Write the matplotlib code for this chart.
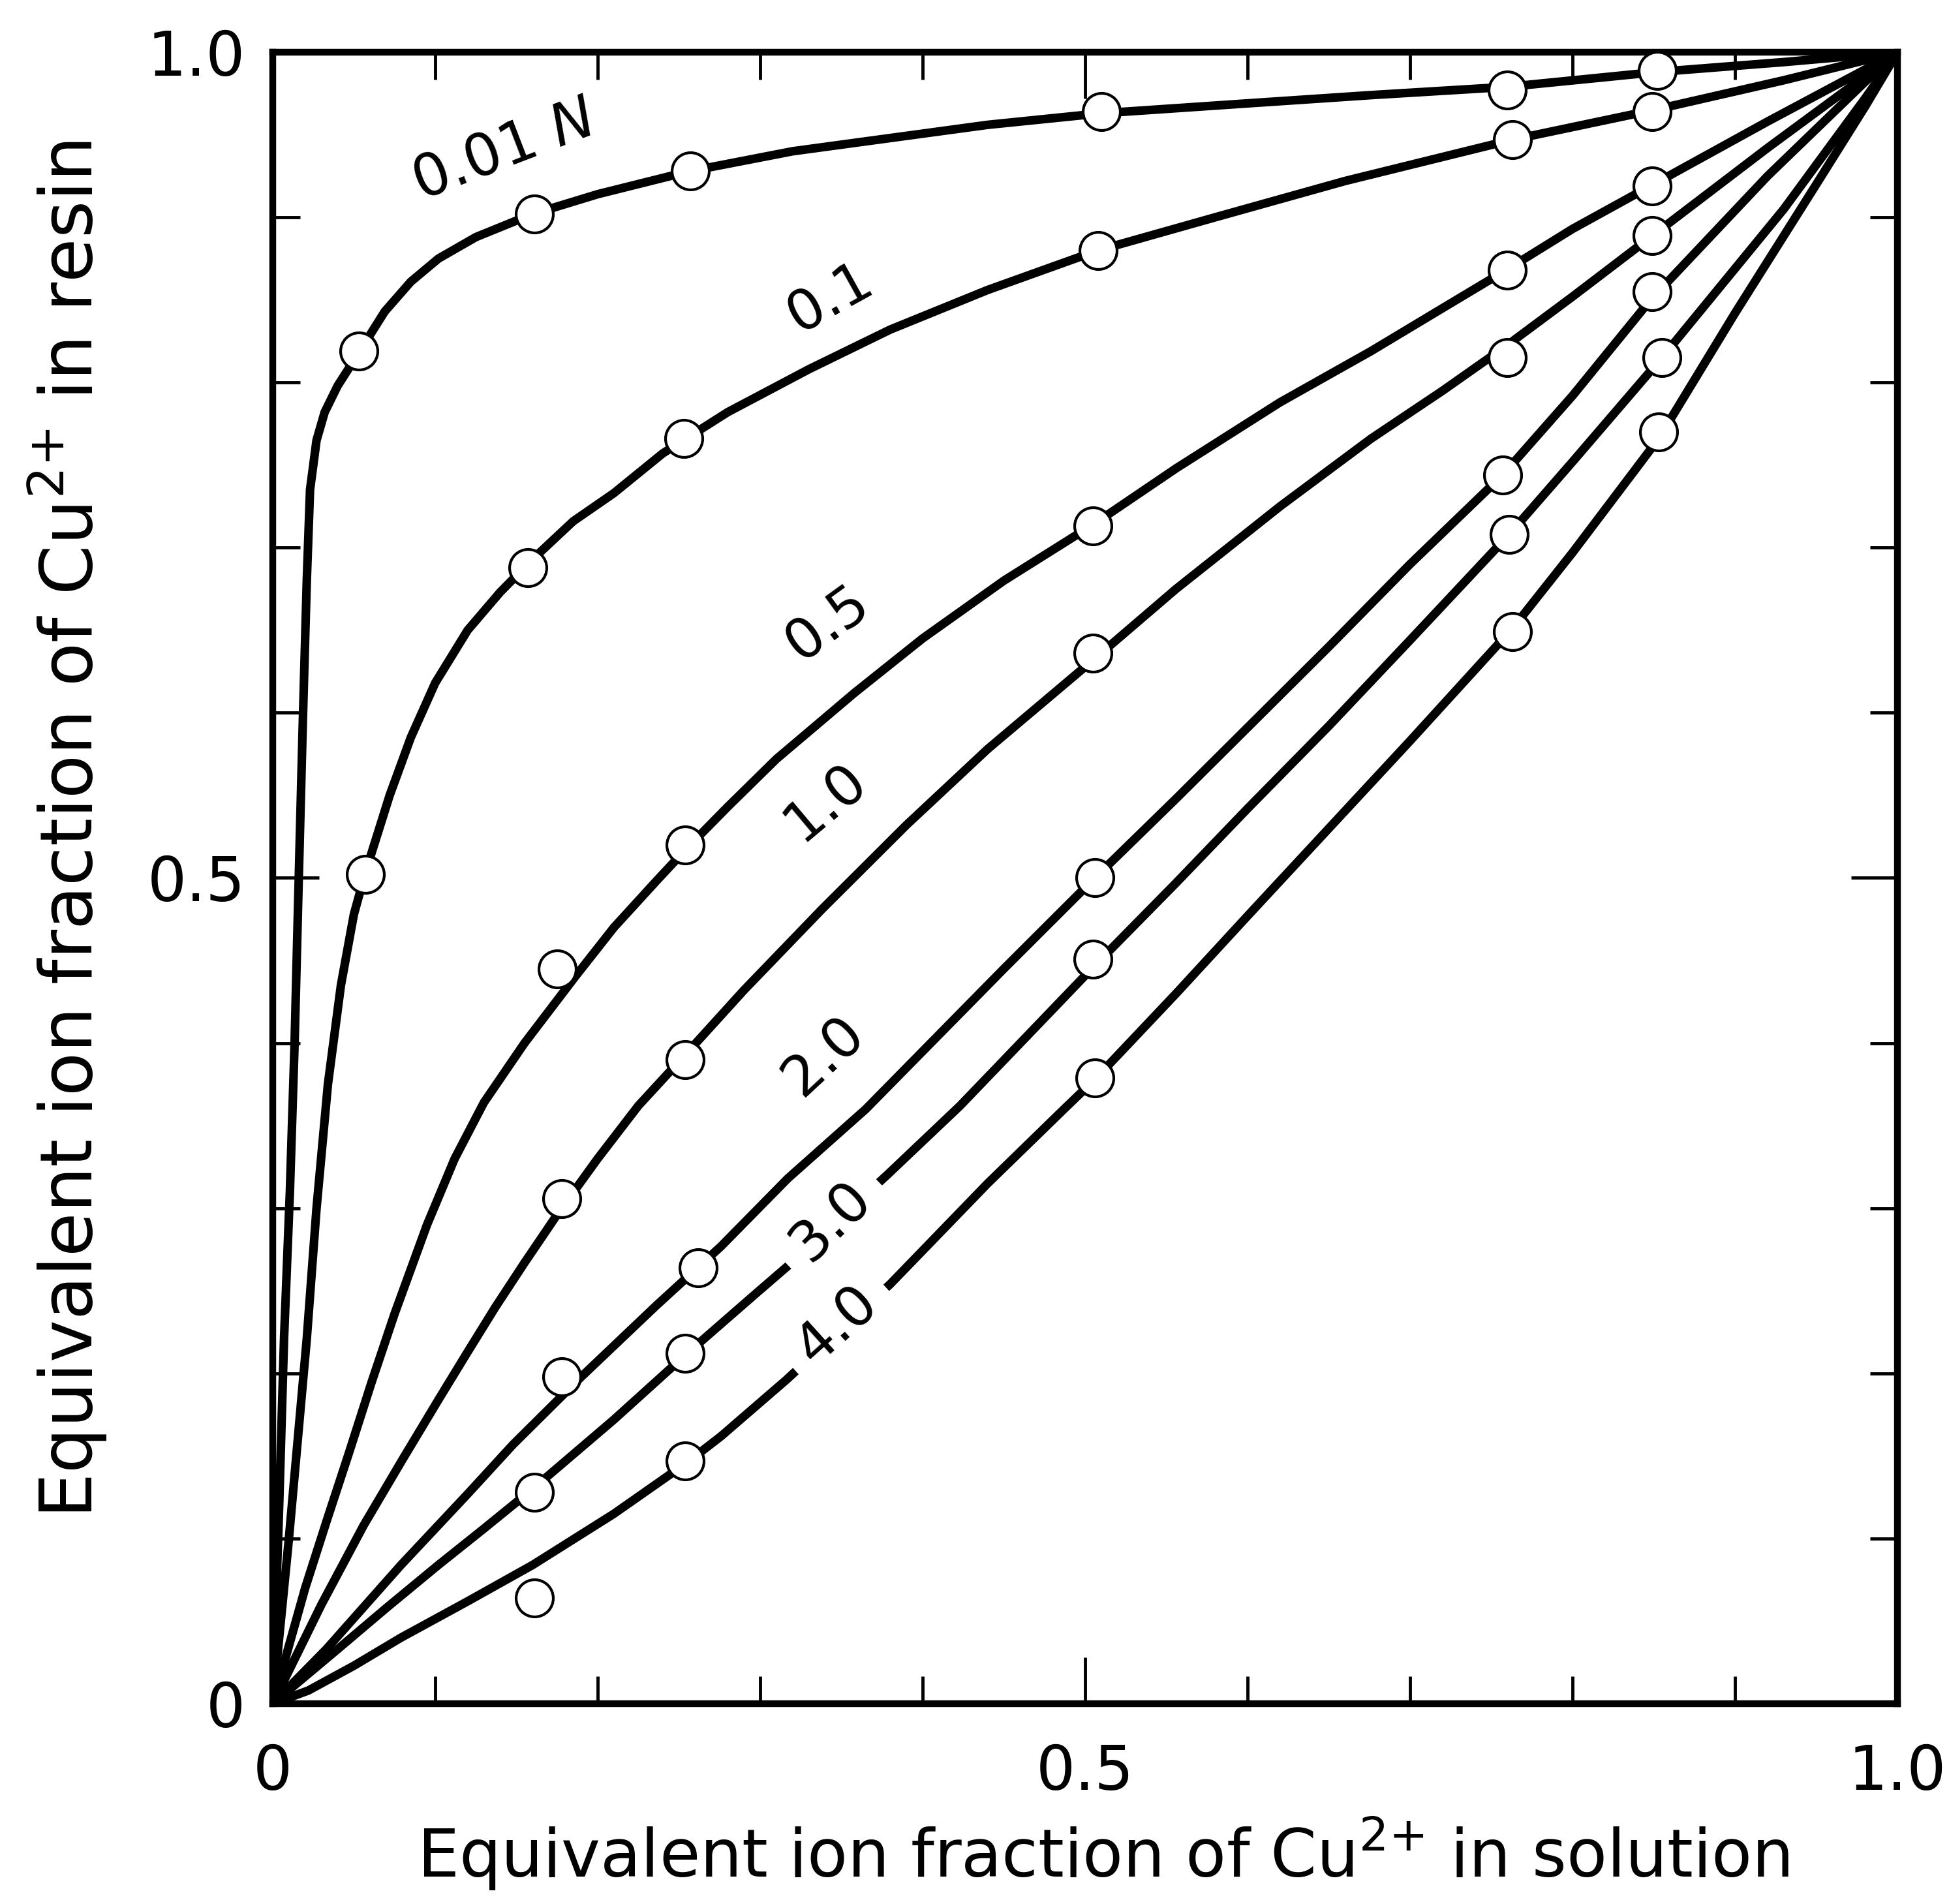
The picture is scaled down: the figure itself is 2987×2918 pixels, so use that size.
import matplotlib
matplotlib.use("Agg")
import matplotlib.pyplot as plt
from matplotlib.ticker import MultipleLocator

# ---- measured points (open circles), equivalent ion fractions ----
pts_001_x = [0.053, 0.161, 0.257, 0.510, 0.760, 0.852]
pts_001_y = [0.819, 0.902, 0.928, 0.964, 0.977, 0.989]
pts_01_x = [0.057, 0.157, 0.253, 0.508, 0.763, 0.849]
pts_01_y = [0.502, 0.688, 0.766, 0.880, 0.947, 0.964]
pts_05_x = [0.175, 0.254, 0.505, 0.760, 0.849]
pts_05_y = [0.445, 0.520, 0.713, 0.868, 0.919]
pts_10_x = [0.178, 0.254, 0.505, 0.760, 0.849]
pts_10_y = [0.306, 0.390, 0.636, 0.815, 0.889]
pts_20_x = [0.178, 0.262, 0.506, 0.757, 0.849]
pts_20_y = [0.198, 0.264, 0.500, 0.744, 0.855]
pts_30_x = [0.161, 0.254, 0.505, 0.761, 0.855]
pts_30_y = [0.128, 0.212, 0.451, 0.708, 0.815]
pts_40_x = [0.161, 0.254, 0.506, 0.763, 0.853]
pts_40_y = [0.064, 0.147, 0.379, 0.649, 0.770]

# ---- drawn isotherm curves ----
cur_001_x = [0, 0.004, 0.007, 0.0106, 0.0135, 0.0158, 0.0186, 0.021, 0.023, 0.027, 0.032,
             0.04, 0.053, 0.069, 0.085, 0.102, 0.125, 0.16, 0.2, 0.257, 0.32, 0.38, 0.44,
             0.51, 0.6, 0.676, 0.76, 0.852, 0.93, 1.0]
cur_001_y = [0, 0.12, 0.221, 0.31, 0.40, 0.49, 0.596, 0.68, 0.735, 0.765, 0.782,
             0.798, 0.818, 0.843, 0.861, 0.875, 0.888, 0.902, 0.914, 0.928, 0.940, 0.948, 0.956,
             0.963, 0.969, 0.974, 0.979, 0.988, 0.994, 1.0]
cur_01_x = [0, 0.005, 0.01, 0.015, 0.021, 0.027, 0.034, 0.042, 0.05, 0.057, 0.072, 0.085,
            0.1, 0.12, 0.14, 0.16, 0.185, 0.21, 0.24, 0.28, 0.33, 0.38, 0.44, 0.508, 0.58,
            0.66, 0.763, 0.85, 0.93, 1.0]
cur_01_y = [0, 0.05, 0.10, 0.155, 0.221, 0.30, 0.375, 0.435, 0.478, 0.503, 0.55, 0.585,
            0.618, 0.650, 0.673, 0.693, 0.716, 0.733, 0.757, 0.782, 0.808, 0.832, 0.856, 0.880,
            0.900, 0.922, 0.947, 0.965, 0.983, 1.0]
cur_05_x = [0, 0.01, 0.02, 0.033, 0.047, 0.061, 0.075, 0.095, 0.112, 0.13, 0.155, 0.186,
            0.21, 0.236, 0.254, 0.28, 0.31, 0.358, 0.40, 0.45, 0.505, 0.556, 0.62, 0.676,
            0.72, 0.759, 0.80, 0.848, 0.92, 1.0]
cur_05_y = [0, 0.035, 0.07, 0.11, 0.152, 0.195, 0.236, 0.29, 0.33, 0.364, 0.40, 0.44,
            0.47, 0.498, 0.517, 0.543, 0.572, 0.612, 0.645, 0.68, 0.714, 0.748, 0.788, 0.819,
            0.845, 0.868, 0.893, 0.919, 0.958, 1.0]
cur_10_x = [0, 0.015, 0.03, 0.056, 0.08, 0.102, 0.12, 0.137, 0.155, 0.175, 0.2, 0.225,
            0.254, 0.29, 0.338, 0.39, 0.44, 0.505, 0.556, 0.62, 0.676, 0.72, 0.759, 0.80,
            0.848, 0.92, 1.0]
cur_10_y = [0, 0.03, 0.06, 0.108, 0.148, 0.184, 0.213, 0.240, 0.267, 0.296, 0.33, 0.362,
            0.393, 0.432, 0.481, 0.532, 0.578, 0.632, 0.675, 0.725, 0.766, 0.795, 0.822, 0.852,
            0.888, 0.942, 1.0]
cur_20_x = [0, 0.033, 0.079, 0.12, 0.148, 0.19, 0.236, 0.276, 0.317, 0.365, 0.399, 0.45,
            0.506, 0.556, 0.65, 0.70, 0.757, 0.80, 0.848, 0.92, 0.98, 1.0]
cur_20_y = [0, 0.033, 0.084, 0.127, 0.157, 0.198, 0.241, 0.277, 0.318, 0.360, 0.394, 0.445,
            0.500, 0.548, 0.640, 0.690, 0.744, 0.792, 0.850, 0.925, 0.982, 1.0]
cur_30_x = [0, 0.040, 0.07, 0.102, 0.13, 0.160, 0.21, 0.255, 0.297, 0.317, 0.378, 0.423,
            0.465, 0.505, 0.556, 0.60, 0.65, 0.70, 0.761, 0.80, 0.855, 0.93, 0.98, 1.0]
cur_30_y = [0, 0.033, 0.058, 0.084, 0.106, 0.130, 0.172, 0.212, 0.248, 0.265, 0.320, 0.362,
            0.405, 0.446, 0.497, 0.542, 0.592, 0.644, 0.708, 0.752, 0.815, 0.905, 0.972, 1.0]
cur_40_x = [0, 0.022, 0.05, 0.079, 0.12, 0.160, 0.21, 0.255, 0.276, 0.316, 0.38, 0.44,
            0.487, 0.506, 0.556, 0.60, 0.65, 0.70, 0.763, 0.80, 0.853, 0.90, 0.95, 0.98, 1.0]
cur_40_y = [0, 0.008, 0.023, 0.040, 0.062, 0.084, 0.115, 0.146, 0.162, 0.196, 0.254, 0.315,
            0.36, 0.378, 0.430, 0.477, 0.53, 0.583, 0.651, 0.697, 0.766, 0.842, 0.920, 0.967, 1.0]

curve_labels = ["0.01 $\\mathit{N}$", "0.1", "0.5", "1.0", "2.0", "3.0", "4.0"]
curves = [(cur_001_x, cur_001_y), (cur_01_x, cur_01_y), (cur_05_x, cur_05_y),
          (cur_10_x, cur_10_y), (cur_20_x, cur_20_y), (cur_30_x, cur_30_y),
          (cur_40_x, cur_40_y)]
points = [(pts_001_x, pts_001_y), (pts_01_x, pts_01_y), (pts_05_x, pts_05_y),
          (pts_10_x, pts_10_y), (pts_20_x, pts_20_y), (pts_30_x, pts_30_y),
          (pts_40_x, pts_40_y)]

# label placement along each curve (data coords, rotation in degrees)
lab_x = [0.1426, 0.343, 0.3414, 0.3404, 0.3394, 0.3438, 0.3476]
lab_y = [0.940, 0.851, 0.654, 0.546, 0.392, 0.292, 0.229]
lab_rot = [21, 29, 36, 40, 43, 44, 42]
lab_size = [64, 62, 62, 62, 62, 62, 62]
lab_on_line = [False, False, False, False, False, True, True]

fig = plt.figure(figsize=(29.87, 29.18), dpi=100)
ax = fig.add_axes([0.1399, 0.1052, 0.8337, 0.8674])

for (cx, cy) in curves:
    ax.plot(cx, cy, color="black", lw=9.5, solid_joinstyle="round",
            solid_capstyle="round", zorder=2)
for (px, py) in points:
    ax.plot(px, py, "o", ms=41, mfc="white", mec="black", mew=3,
            zorder=5, clip_on=False)

for text, x, y, rot, fs, gap in zip(curve_labels, lab_x, lab_y, lab_rot, lab_size, lab_on_line):
    kw = {}
    if gap:
        kw["bbox"] = dict(boxstyle="square,pad=0.3", fc="white", ec="none")
    ax.text(x, y, text, fontsize=fs, rotation=rot, rotation_mode="anchor",
            ha="center", va="center", zorder=4, **kw)

ax.set_xlim(0, 1)
ax.set_ylim(0, 1)
ax.set_xticks([0, 0.5, 1.0], ["0", "0.5", "1.0"])
ax.set_yticks([0, 0.5, 1.0], ["0", "0.5", "1.0"])
ax.xaxis.set_minor_locator(MultipleLocator(0.1))
ax.yaxis.set_minor_locator(MultipleLocator(0.1))
ax.tick_params(which="both", direction="in", top=True, right=True, width=3.5)
ax.tick_params(which="major", length=51, labelsize=68)
ax.tick_params(axis="x", which="major", pad=43)
ax.tick_params(axis="y", which="major", pad=30)
ax.tick_params(which="minor", length=30)
for sp in ax.spines.values():
    sp.set_linewidth(7.5)

ax.set_xlabel("Equivalent ion fraction of Cu$^{2{+}}$ in solution", fontsize=73,
              va="baseline")
ax.xaxis.set_label_coords(0.511, -0.105)
ax.set_ylabel("Equivalent ion fraction of Cu$^{2{+}}$ in resin", fontsize=79,
              rotation_mode="anchor", va="baseline", ha="center")
ax.yaxis.set_label_coords(-0.1108, 0.5294)

fig.savefig("out.png", dpi=100, facecolor="white")
